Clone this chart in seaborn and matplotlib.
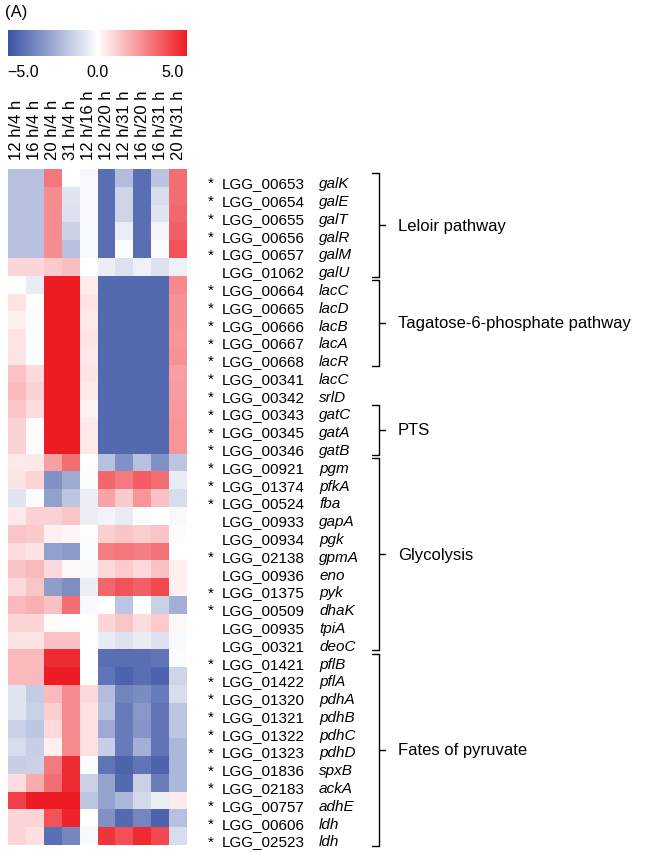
import numpy as np
import pandas as pd
import matplotlib
matplotlib.use("Agg")
import matplotlib.pyplot as plt
import matplotlib.transforms as mtransforms
from matplotlib.colors import LinearSegmentedColormap
import seaborn as sns

# column contrasts
conditions = ["12 h/4 h", "16 h/4 h", "20 h/4 h", "31 h/4 h", "12 h/16 h",
              "12 h/20 h", "12 h/31 h", "16 h/20 h", "16 h/31 h", "20 h/31 h"]

locus_ids = ["00653", "00654", "00655", "00656", "00657", "01062",
             "00664", "00665", "00666", "00667", "00668", "00341", "00342",
             "00343", "00345", "00346",
             "00921", "01374", "00524", "00933", "00934", "02138", "00936",
             "01375", "00509", "00935", "00321",
             "01421", "01422", "01320", "01321", "01322", "01323", "01836",
             "02183", "00757", "00606", "02523"]

genes = ["galK", "galE", "galT", "galR", "galM", "galU",
         "lacC", "lacD", "lacB", "lacA", "lacR", "lacC", "srlD",
         "gatC", "gatA", "gatB",
         "pgm", "pfkA", "fba", "gapA", "pgk", "gpmA", "eno",
         "pyk", "dhaK", "tpiA", "deoC",
         "pflB", "pflA", "pdhA", "pdhB", "pdhC", "pdhD", "spxB",
         "ackA", "adhE", "ldh", "ldh"]

# significant genes get a star
significant = [1, 1, 1, 1, 1, 0,
               1, 1, 1, 1, 1, 1, 1,
               1, 1, 1,
               1, 1, 1, 0, 0, 1, 0,
               1, 1, 0, 0,
               1, 1, 1, 1, 1, 1, 1,
               1, 1, 1, 1]

# log2 fold changes
log2fc = [
    [-2.2, -2.2, 3.6, 0.0, -0.2, -5.0, -2.3, -5.0, -2.1, 3.8],
    [-2.2, -2.2, 3.0, -0.9, -0.2, -5.0, -1.5, -5.0, -1.2, 3.8],
    [-2.2, -2.2, 3.0, -1.0, -0.2, -5.0, -1.5, -5.0, -0.9, 4.0],
    [-2.2, -2.2, 3.0, -1.6, -0.2, -5.0, -0.6, -5.0, -0.3, 4.2],
    [-2.2, -2.2, 3.0, -2.2, -0.2, -5.0, -0.1, -5.0, -0.1, 4.5],
    [1.1, 1.1, 1.4, 1.7, 0.0, -0.6, -1.0, -0.5, -1.0, -0.5],
    [0.0, -0.7, 6.0, 6.0, 0.5, -5.2, -5.2, -5.2, -5.2, 3.1],
    [0.7, 0.0, 6.0, 6.0, 0.7, -5.2, -5.2, -5.2, -5.2, 2.9],
    [0.4, -0.1, 6.0, 6.0, 0.6, -5.2, -5.2, -5.2, -5.2, 2.9],
    [0.7, -0.1, 6.0, 6.0, 0.7, -5.2, -5.2, -5.2, -5.2, 2.8],
    [0.7, -0.1, 6.0, 6.0, 0.6, -5.2, -5.2, -5.2, -5.2, 2.9],
    [1.6, 1.0, 6.0, 6.0, 0.7, -5.2, -5.2, -5.2, -5.2, 2.5],
    [1.8, 1.2, 6.0, 6.0, 0.6, -5.2, -5.2, -5.2, -5.2, 2.6],
    [1.5, 0.9, 6.0, 6.0, 0.3, -5.2, -5.2, -5.2, -5.2, 2.7],
    [1.2, 0.1, 6.0, 6.0, 0.6, -5.2, -5.2, -5.2, -5.2, 2.8],
    [1.2, 0.1, 6.0, 6.0, 0.6, -5.2, -5.2, -5.2, -5.2, 2.8],
    [0.6, 0.6, 2.5, 3.8, 0.0, -2.2, -3.8, -2.2, -3.8, -2.0],
    [0.7, 1.1, -3.8, -3.0, -0.1, 4.0, 3.5, 4.3, 3.8, -0.7],
    [-0.9, -0.1, -3.3, -2.0, -0.6, 2.4, 1.4, 2.8, 1.6, -1.2],
    [0.6, 1.2, 1.2, 1.5, -0.6, -0.4, -0.7, -0.1, 0.0, -0.2],
    [1.5, 1.4, 0.4, 0.2, 0.0, 1.3, 1.5, 1.3, 1.5, 0.1],
    [0.9, 0.7, -3.3, -3.5, -0.1, 3.4, 3.6, 3.4, 3.7, 0.0],
    [1.6, 1.8, 1.0, 0.2, -0.2, 1.0, 1.4, 1.0, 1.6, 0.4],
    [1.0, 1.5, -3.4, -3.9, -0.6, 4.0, 4.5, 4.2, 4.8, 0.4],
    [1.8, 2.1, 1.6, 3.8, -0.2, 0.0, -2.0, 0.0, -1.6, -2.8],
    [1.1, 1.1, 0.1, -0.1, 0.0, 1.1, 1.5, 0.9, 1.4, 0.2],
    [0.7, 0.7, 1.6, 1.6, 0.0, -0.7, -1.0, -0.7, -1.0, -0.2],
    [1.8, 1.8, 5.6, 5.6, 0.0, -5.0, -5.0, -5.0, -4.8, -0.1],
    [1.8, 1.8, 6.0, 6.0, 0.0, -4.8, -5.4, -5.0, -5.4, -1.5],
    [-0.9, -1.8, 1.8, 3.0, 1.0, -2.3, -4.3, -4.0, -4.6, -1.2],
    [-0.9, -1.6, 1.3, 3.1, 0.8, -2.2, -4.6, -3.6, -4.8, -2.0],
    [-1.6, -2.0, 1.0, 3.1, 0.8, -3.0, -4.6, -3.7, -4.8, -2.0],
    [-1.2, -1.7, 0.4, 3.1, 0.8, -1.7, -4.6, -2.8, -4.8, -2.5],
    [-1.7, -1.6, 3.5, 5.6, -0.1, -4.8, -5.4, -4.8, -5.4, -2.5],
    [0.9, 2.2, 3.8, 5.6, -1.6, -3.2, -5.2, -1.6, -4.5, -2.5],
    [5.0, 6.0, 6.0, 6.0, -2.0, -3.2, -2.5, -1.3, -0.6, 0.5],
    [1.1, 1.1, 4.5, 5.8, 0.0, -3.8, -5.2, -4.2, -5.4, -2.2],
    [1.1, 0.8, -5.0, -4.2, -0.2, 5.3, 4.6, 5.6, 4.8, -1.2],
]

# pathway groups: (name, first row, last row)
group_names = ["Leloir pathway", "Tagatose-6-phosphate pathway", "PTS",
               "Glycolysis", "Fates of pyruvate"]
group_first = [0, 6, 13, 16, 27]
group_last = [5, 10, 15, 26, 37]

sns.set_style("white")
plt.rcParams["font.family"] = ["Liberation Sans", "DejaVu Sans"]
plt.rcParams["text.color"] = "black"
plt.rcParams["xtick.color"] = "black"
plt.rcParams["ytick.color"] = "black"

W, H = 650, 854
fig = plt.figure(figsize=(W / 100, H / 100), dpi=100)

def px_axes(x0, y0, x1, y1):
    return fig.add_axes([x0 / W, 1 - y1 / H, (x1 - x0) / W, (y1 - y0) / H])

ax = px_axes(8, 170, 187, 846)
cax = px_axes(8, 31, 187, 57)

cmap = LinearSegmentedColormap.from_list(
    "bwr_fig", ["#3A53A4", "#FFFFFF", "#ED1C24"])

df = pd.DataFrame(log2fc, columns=conditions)
sns.heatmap(df, ax=ax, cmap=cmap, vmin=-6, vmax=6, cbar_ax=cax,
            cbar_kws={"orientation": "horizontal", "ticks": [-5, 0, 5]},
            xticklabels=conditions, yticklabels=False)

ax.xaxis.tick_top()
ax.set_xticklabels(conditions, rotation=90, fontsize=12)
ax.tick_params(axis="x", length=0, pad=7)
ax.set_ylabel("")

cb = ax.collections[0].colorbar
cb.outline.set_visible(False)
cb.set_ticklabels(["\u22125.0", "0.0", "5.0"])
cb.ax.tick_params(length=0, labelsize=11.5, pad=6)

# x in figure pixels, y in heatmap rows
trans = mtransforms.blended_transform_factory(
    mtransforms.IdentityTransform(), ax.transData)

for i, (lid, g, s) in enumerate(zip(locus_ids, genes, significant)):
    y = i + 0.8
    if s:
        ax.text(211, y, "*", transform=trans, ha="center", va="center",
                fontsize=11, clip_on=False)
    ax.text(222, y, "LGG_" + lid, transform=trans, ha="left", va="center",
            fontsize=11, clip_on=False)
    ax.text(319, y, g, transform=trans, ha="left", va="center",
            fontsize=11, style="italic", clip_on=False)

# pathway brackets
for name, a, b in zip(group_names, group_first, group_last):
    top, bot = a + 0.25, b + 1.05
    mid = (top + bot) / 2
    ax.plot([372, 379, 379, 372], [top, top, bot, bot], transform=trans,
            color="black", lw=1, clip_on=False)
    ax.plot([379, 385], [mid, mid], transform=trans, color="black", lw=1,
            clip_on=False)
    ax.text(398, mid, name, transform=trans, ha="left", va="center",
            fontsize=12, clip_on=False)

fig.text(5 / W, 1 - 12 / H, "(A)", ha="left", va="center", fontsize=12)

fig.savefig("out.png", dpi=100)
